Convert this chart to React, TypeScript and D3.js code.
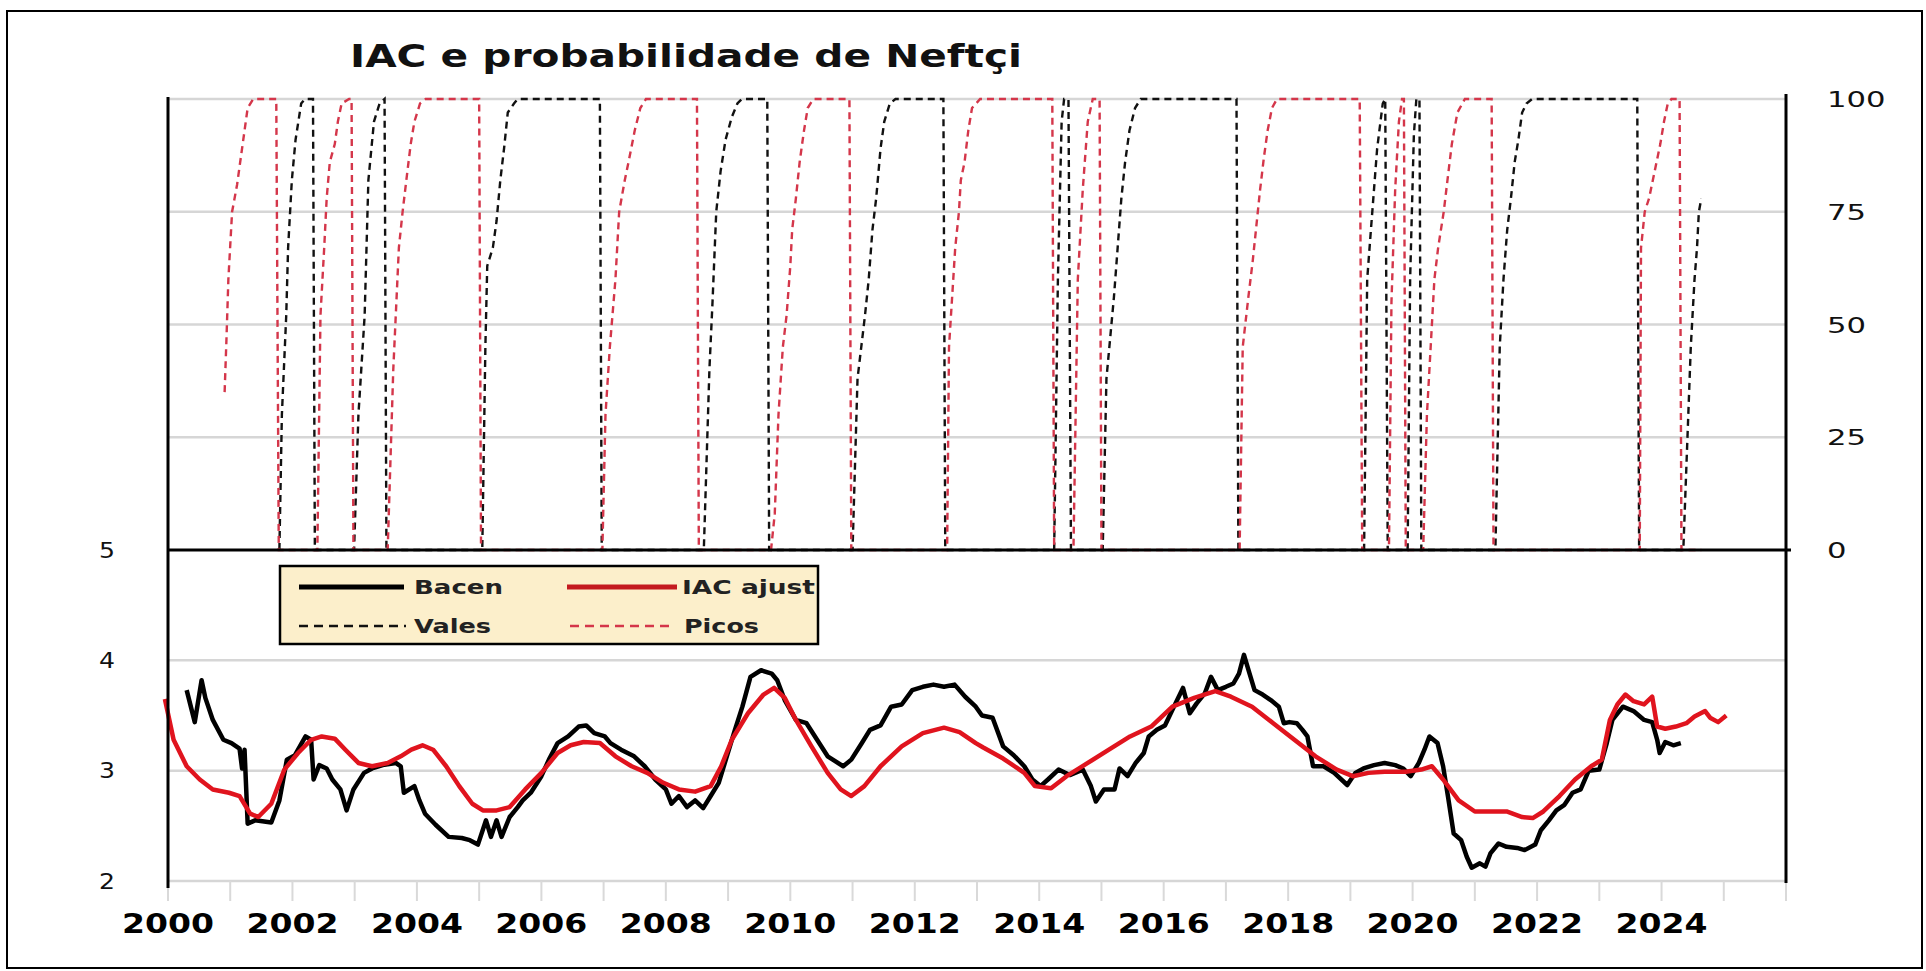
import React from 'react';
import * as d3 from 'd3';

type P = [number, number];

const bacen: P[] = [
  [2000.30, 3.73], [2000.43, 3.44], [2000.54, 3.82], [2000.60, 3.66], [2000.72, 3.46], [2000.89, 3.28],
  [2001.02, 3.25], [2001.15, 3.20], [2001.19, 3.02], [2001.23, 3.19], [2001.28, 2.52], [2001.40, 2.55],
  [2001.66, 2.53], [2001.79, 2.73], [2001.91, 3.10], [2002.04, 3.14], [2002.21, 3.31], [2002.30, 3.28],
  [2002.34, 2.92], [2002.43, 3.05], [2002.55, 3.02], [2002.64, 2.92], [2002.77, 2.83], [2002.87, 2.64],
  [2002.98, 2.83], [2003.15, 2.98], [2003.28, 3.02], [2003.45, 3.05], [2003.66, 3.07], [2003.74, 3.04],
  [2003.79, 2.80], [2003.96, 2.86], [2004.04, 2.73], [2004.13, 2.61], [2004.30, 2.51], [2004.51, 2.40],
  [2004.72, 2.39], [2004.85, 2.37], [2004.98, 2.33], [2005.11, 2.55], [2005.19, 2.40], [2005.28, 2.55],
  [2005.36, 2.40], [2005.49, 2.58], [2005.62, 2.67], [2005.70, 2.73], [2005.83, 2.80], [2006.00, 2.95],
  [2006.13, 3.11], [2006.26, 3.25], [2006.43, 3.31], [2006.60, 3.40], [2006.72, 3.41], [2006.85, 3.34],
  [2007.02, 3.31], [2007.11, 3.25], [2007.28, 3.19], [2007.49, 3.13], [2007.66, 3.04], [2007.83, 2.92],
  [2008.00, 2.83], [2008.09, 2.70], [2008.21, 2.77], [2008.34, 2.67], [2008.47, 2.73], [2008.60, 2.66],
  [2008.72, 2.77], [2008.85, 2.89], [2008.98, 3.13], [2009.11, 3.37], [2009.23, 3.58], [2009.36, 3.85],
  [2009.53, 3.91], [2009.70, 3.88], [2009.79, 3.82], [2009.91, 3.64], [2010.09, 3.46], [2010.26, 3.43],
  [2010.43, 3.28], [2010.60, 3.13], [2010.85, 3.04], [2010.98, 3.10], [2011.15, 3.25], [2011.28, 3.37],
  [2011.45, 3.41], [2011.62, 3.58], [2011.79, 3.60], [2011.96, 3.73], [2012.13, 3.76], [2012.30, 3.78],
  [2012.47, 3.76], [2012.64, 3.78], [2012.81, 3.67], [2012.98, 3.58], [2013.08, 3.50], [2013.25, 3.48],
  [2013.42, 3.22], [2013.59, 3.14], [2013.76, 3.04], [2013.89, 2.92], [2014.02, 2.86], [2014.14, 2.92],
  [2014.31, 3.01], [2014.49, 2.96], [2014.70, 3.01], [2014.83, 2.86], [2014.91, 2.72], [2015.04, 2.83],
  [2015.21, 2.83], [2015.29, 3.02], [2015.42, 2.95], [2015.55, 3.07], [2015.68, 3.16], [2015.76, 3.31],
  [2015.89, 3.37], [2016.02, 3.41], [2016.19, 3.61], [2016.31, 3.75], [2016.42, 3.52], [2016.53, 3.61],
  [2016.66, 3.70], [2016.76, 3.85], [2016.87, 3.73], [2017.00, 3.76], [2017.12, 3.79], [2017.21, 3.88],
  [2017.29, 4.05], [2017.38, 3.88], [2017.46, 3.73], [2017.59, 3.69], [2017.72, 3.64], [2017.85, 3.58],
  [2017.93, 3.43], [2018.02, 3.44], [2018.14, 3.43], [2018.23, 3.37], [2018.31, 3.31], [2018.40, 3.04],
  [2018.57, 3.04], [2018.74, 2.98], [2018.95, 2.87], [2019.08, 2.98], [2019.21, 3.02], [2019.38, 3.05],
  [2019.55, 3.07], [2019.72, 3.05], [2019.85, 3.02], [2019.97, 2.95], [2020.10, 3.07], [2020.19, 3.19],
  [2020.27, 3.31], [2020.40, 3.25], [2020.49, 3.04], [2020.57, 2.76], [2020.66, 2.43], [2020.78, 2.37],
  [2020.87, 2.22], [2020.95, 2.12], [2021.08, 2.16], [2021.17, 2.13], [2021.25, 2.25], [2021.38, 2.34],
  [2021.51, 2.31], [2021.68, 2.30], [2021.80, 2.28], [2021.97, 2.33], [2022.06, 2.46], [2022.19, 2.55],
  [2022.31, 2.64], [2022.44, 2.69], [2022.57, 2.80], [2022.70, 2.83], [2022.83, 3.00], [2023.00, 3.01],
  [2023.12, 3.25], [2023.21, 3.46], [2023.38, 3.58], [2023.55, 3.54], [2023.72, 3.46], [2023.85, 3.44],
  [2023.93, 3.28], [2023.97, 3.16], [2024.06, 3.26], [2024.19, 3.23], [2024.31, 3.25],
];

const iacAjust: P[] = [
  [1999.95, 3.65], [2000.09, 3.28], [2000.30, 3.04], [2000.51, 2.92], [2000.72, 2.83], [2000.98, 2.80],
  [2001.15, 2.77], [2001.32, 2.61], [2001.45, 2.58], [2001.66, 2.70], [2001.87, 3.01], [2002.09, 3.16],
  [2002.30, 3.28], [2002.47, 3.31], [2002.68, 3.29], [2002.85, 3.19], [2003.06, 3.07], [2003.28, 3.04],
  [2003.53, 3.07], [2003.74, 3.13], [2003.91, 3.19], [2004.09, 3.23], [2004.26, 3.19], [2004.47, 3.04],
  [2004.68, 2.86], [2004.89, 2.70], [2005.06, 2.64], [2005.28, 2.64], [2005.49, 2.67], [2005.74, 2.83],
  [2006.00, 2.98], [2006.26, 3.16], [2006.47, 3.23], [2006.68, 3.26], [2006.94, 3.25], [2007.19, 3.13],
  [2007.45, 3.04], [2007.70, 2.98], [2007.96, 2.89], [2008.21, 2.83], [2008.47, 2.81], [2008.72, 2.86],
  [2008.89, 3.04], [2009.06, 3.28], [2009.32, 3.52], [2009.57, 3.69], [2009.74, 3.75], [2009.91, 3.66],
  [2010.09, 3.46], [2010.34, 3.22], [2010.60, 2.98], [2010.81, 2.83], [2010.98, 2.77], [2011.19, 2.86],
  [2011.45, 3.04], [2011.79, 3.22], [2012.13, 3.34], [2012.47, 3.39], [2012.72, 3.35], [2012.98, 3.25],
  [2013.10, 3.21], [2013.42, 3.11], [2013.76, 2.98], [2013.93, 2.86], [2014.19, 2.84], [2014.44, 2.95],
  [2014.78, 3.07], [2015.12, 3.19], [2015.46, 3.31], [2015.80, 3.40], [2016.14, 3.58], [2016.49, 3.66],
  [2016.83, 3.72], [2017.08, 3.67], [2017.42, 3.58], [2017.76, 3.43], [2018.10, 3.28], [2018.44, 3.13],
  [2018.78, 3.01], [2019.04, 2.95], [2019.29, 2.98], [2019.55, 2.99], [2019.89, 2.99], [2020.14, 3.01],
  [2020.31, 3.04], [2020.49, 2.92], [2020.74, 2.73], [2021.00, 2.63], [2021.25, 2.63], [2021.51, 2.63],
  [2021.76, 2.58], [2021.93, 2.57], [2022.10, 2.63], [2022.36, 2.77], [2022.61, 2.92], [2022.87, 3.04],
  [2023.04, 3.10], [2023.17, 3.46], [2023.29, 3.60], [2023.42, 3.69], [2023.55, 3.63], [2023.72, 3.60],
  [2023.85, 3.67], [2023.93, 3.40], [2024.06, 3.38], [2024.23, 3.40], [2024.40, 3.43], [2024.53, 3.49],
  [2024.70, 3.54], [2024.78, 3.48], [2024.91, 3.44], [2025.04, 3.50],
];

const picos: P[] = [
  [2000.91, 35], [2000.94, 47], [2000.97, 60], [2001.03, 75], [2001.11, 81], [2001.19, 89], [2001.28, 98], [2001.37, 100], [2001.74, 100], [2001.78, 0],
  [2002.40, 0], [2002.45, 52], [2002.51, 67], [2002.55, 78], [2002.60, 86], [2002.68, 90], [2002.73, 95], [2002.79, 99], [2002.91, 100], [2002.95, 100], [2002.98, 0],
  [2003.53, 0], [2003.62, 40], [2003.71, 67], [2003.77, 75], [2003.83, 82], [2003.90, 90], [2003.96, 95], [2004.05, 99], [2004.14, 100], [2005.00, 100], [2005.03, 0],
  [2006.98, 0], [2007.03, 30], [2007.10, 45], [2007.19, 60], [2007.25, 75], [2007.34, 82], [2007.40, 86], [2007.50, 93], [2007.59, 98], [2007.68, 100], [2008.50, 100], [2008.53, 0],
  [2009.69, 0], [2009.75, 8], [2009.81, 30], [2009.88, 45], [2009.94, 52], [2010.00, 63], [2010.03, 71], [2010.09, 78], [2010.15, 86], [2010.22, 93], [2010.28, 98], [2010.37, 100], [2010.95, 100], [2010.98, 0],
  [2012.52, 0], [2012.55, 45], [2012.65, 67], [2012.71, 75], [2012.74, 82], [2012.80, 86], [2012.86, 93], [2012.92, 98], [2013.05, 100], [2014.21, 100], [2014.24, 0],
  [2014.55, 0], [2014.62, 60], [2014.70, 80], [2014.78, 95], [2014.86, 100], [2014.97, 100], [2015.00, 0],
  [2017.22, 0], [2017.27, 45], [2017.36, 56], [2017.43, 64], [2017.49, 72], [2017.55, 80], [2017.61, 87], [2017.67, 93], [2017.74, 98], [2017.82, 100], [2019.15, 100], [2019.19, 0],
  [2019.62, 0], [2019.66, 55], [2019.72, 80], [2019.78, 95], [2019.83, 100], [2019.86, 100], [2019.89, 0],
  [2020.17, 0], [2020.23, 30], [2020.29, 45], [2020.35, 60], [2020.41, 67], [2020.50, 75], [2020.56, 82], [2020.63, 90], [2020.72, 97], [2020.84, 100], [2021.27, 100], [2021.30, 0],
  [2023.65, 0], [2023.67, 67], [2023.73, 75], [2023.80, 78], [2023.86, 82], [2023.92, 86], [2023.98, 90], [2024.04, 95], [2024.10, 99], [2024.16, 100], [2024.29, 100], [2024.32, 0], [2024.64, 0],
];

const vales: P[] = [
  [2001.79, 0], [2001.83, 30], [2001.90, 52], [2001.93, 67], [2001.99, 82], [2002.05, 91], [2002.14, 99], [2002.20, 100], [2002.33, 100], [2002.36, 0],
  [2002.99, 0], [2003.06, 30], [2003.16, 52], [2003.22, 82], [2003.31, 95], [2003.40, 99], [2003.48, 100], [2003.51, 0],
  [2005.05, 0], [2005.10, 45], [2005.13, 63], [2005.22, 67], [2005.28, 73], [2005.34, 82], [2005.40, 89], [2005.46, 97], [2005.56, 99], [2005.62, 100], [2006.94, 100], [2006.97, 0],
  [2008.61, 0], [2008.70, 40], [2008.75, 55], [2008.81, 75], [2008.88, 84], [2008.96, 91], [2009.06, 96], [2009.15, 99], [2009.22, 100], [2009.63, 100], [2009.66, 0],
  [2011.00, 0], [2011.08, 38], [2011.14, 45], [2011.20, 52], [2011.26, 60], [2011.32, 71], [2011.38, 78], [2011.45, 89], [2011.51, 95], [2011.60, 99], [2011.69, 100], [2012.46, 100], [2012.49, 0],
  [2014.24, 0], [2014.30, 60], [2014.36, 95], [2014.40, 100], [2014.47, 100], [2014.51, 0],
  [2015.02, 0], [2015.08, 38], [2015.20, 56], [2015.26, 67], [2015.32, 78], [2015.38, 86], [2015.45, 93], [2015.54, 98], [2015.63, 100], [2017.17, 100], [2017.20, 0],
  [2019.22, 0], [2019.27, 60], [2019.33, 71], [2019.43, 89], [2019.52, 99], [2019.56, 100], [2019.60, 0],
  [2019.92, 0], [2019.96, 60], [2020.02, 92], [2020.06, 100], [2020.11, 100], [2020.14, 0],
  [2021.33, 0], [2021.40, 45], [2021.46, 60], [2021.52, 71], [2021.58, 78], [2021.64, 86], [2021.70, 91], [2021.76, 97], [2021.83, 99], [2021.92, 100], [2023.61, 100], [2023.64, 0],
  [2024.35, 0], [2024.47, 45], [2024.53, 60], [2024.57, 67], [2024.60, 75], [2024.64, 78],
];

const yearLabels = [2000, 2002, 2004, 2006, 2008, 2010, 2012, 2014, 2016, 2018, 2020, 2022, 2024];
const yearTicks = d3.range(2000, 2027);
const leftTicks = [2, 3, 4, 5];
const leftGrid = [3, 4];
const rightTicks = [0, 25, 50, 75, 100];
const rightGrid = [25, 50, 75, 100];

const FONT = "'DejaVu Sans', Verdana, sans-serif";
const RED = '#E0141E';

export default function App() {
  const W = 1926, H = 971;
  const x = d3.scaleLinear().domain([2000, 2026]).range([168, 1786]);
  const yB = d3.scaleLinear().domain([2, 5]).range([881, 550]);
  const yT = d3.scaleLinear().domain([0, 100]).range([550, 99]);
  const lineB = d3.line<P>().x(d => x(d[0])).y(d => yB(d[1]));
  const lineT = d3.line<P>().x(d => x(d[0])).y(d => yT(d[1]));
  const xL = x.range()[0], xR = x.range()[1];

  return (
    <svg width={W} height={H} style={{ position: 'absolute', left: 0, top: 0, display: 'block', background: '#fff' }}>
      <rect x={0} y={0} width={W} height={H} fill="#fff" />
      {/* gridlines */}
      {rightGrid.map(t => (
        <line key={'rg' + t} x1={xL} x2={xR} y1={yT(t)} y2={yT(t)} stroke="#D6D6D6" strokeWidth={2.5} />
      ))}
      {leftGrid.map(t => (
        <line key={'lg' + t} x1={xL} x2={xR} y1={yB(t)} y2={yB(t)} stroke="#D6D6D6" strokeWidth={2.5} />
      ))}
      <line x1={xL} x2={xR} y1={yB(2)} y2={yB(2)} stroke="#D6D6D6" strokeWidth={2.5} />
      {yearTicks.map(t => (
        <line key={'t' + t} x1={x(t)} x2={x(t)} y1={yB(2)} y2={yB(2) + 20} stroke="#D9D9D9" strokeWidth={2} />
      ))}

      {/* bottom series */}
      <path d={lineB(bacen) || ''} fill="none" stroke="#000" strokeWidth={4.5} strokeLinejoin="round" />
      <path d={lineB(iacAjust) || ''} fill="none" stroke={RED} strokeWidth={4.5} strokeLinejoin="round" />

      {/* top series */}
      <path d={lineT(vales) || ''} fill="none" stroke="#111" strokeWidth={2.4} strokeDasharray="7 5" />
      <path d={lineT(picos) || ''} fill="none" stroke="#D4364A" strokeWidth={2.4} strokeDasharray="7 5" />

      {/* axes */}
      <line x1={xL} x2={xR + 5} y1={yT(0)} y2={yT(0)} stroke="#000" strokeWidth={3} />
      <line x1={xL} x2={xL} y1={yT(100) - 2} y2={yB(2) + 7} stroke="#000" strokeWidth={3} />
      <line x1={xR} x2={xR} y1={yT(100) - 5} y2={yB(2) + 2} stroke="#000" strokeWidth={3} />

      {/* left labels */}
      {leftTicks.map(t => (
        <text key={'ll' + t} x={107} y={yB(t) + 7.5} textAnchor="middle" fontFamily={FONT} fontSize={21} fill="#111" textLength={16} lengthAdjust="spacingAndGlyphs">{t}</text>
      ))}
      {/* right labels */}
      {rightTicks.map(t => {
        const s = String(t);
        return (
          <text key={'rl' + t} x={1827} y={yT(t) + 8} textAnchor="start" fontFamily={FONT} fontSize={22} fill="#111" textLength={s.length * 19.5} lengthAdjust="spacingAndGlyphs">{s}</text>
        );
      })}
      {/* year labels */}
      {yearLabels.map(t => (
        <text key={'yl' + t} x={x(t)} y={933} textAnchor="middle" fontFamily={FONT} fontWeight="bold" fontSize={27} fill="#000" textLength={92} lengthAdjust="spacingAndGlyphs">{t}</text>
      ))}

      {/* legend */}
      <rect x={280} y={566} width={538} height={78} fill="#FCEFCB" stroke="#000" strokeWidth={2.5} />
      <line x1={299} x2={404} y1={587} y2={587} stroke="#000" strokeWidth={5} />
      <text x={414} y={594} fontFamily={FONT} fontWeight="bold" fontSize={19} fill="#222" textLength={89} lengthAdjust="spacingAndGlyphs">Bacen</text>
      <line x1={567} x2={677} y1={587} y2={587} stroke="#C41A1F" strokeWidth={5} />
      <text x={682} y={594} fontFamily={FONT} fontWeight="bold" fontSize={19} fill="#222" textLength={133} lengthAdjust="spacingAndGlyphs">IAC ajust</text>
      <line x1={299} x2={406} y1={626} y2={626} stroke="#111" strokeWidth={2.4} strokeDasharray="9 6" />
      <text x={414} y={633} fontFamily={FONT} fontWeight="bold" fontSize={19} fill="#222" textLength={77} lengthAdjust="spacingAndGlyphs">Vales</text>
      <line x1={570} x2={674} y1={626} y2={626} stroke="#D4364A" strokeWidth={2.4} strokeDasharray="9 6" />
      <text x={684} y={633} fontFamily={FONT} fontWeight="bold" fontSize={19} fill="#222" textLength={75} lengthAdjust="spacingAndGlyphs">Picos</text>

      {/* title */}
      <text x={350} y={67} fontFamily={FONT} fontWeight="bold" fontSize={32} fill="#111" textLength={672} lengthAdjust="spacingAndGlyphs">IAC e probabilidade de Neftçi</text>

      {/* frame */}
      <rect x={7} y={11} width={1915} height={957} fill="none" stroke="#000" strokeWidth={2} />
    </svg>
  );
}
